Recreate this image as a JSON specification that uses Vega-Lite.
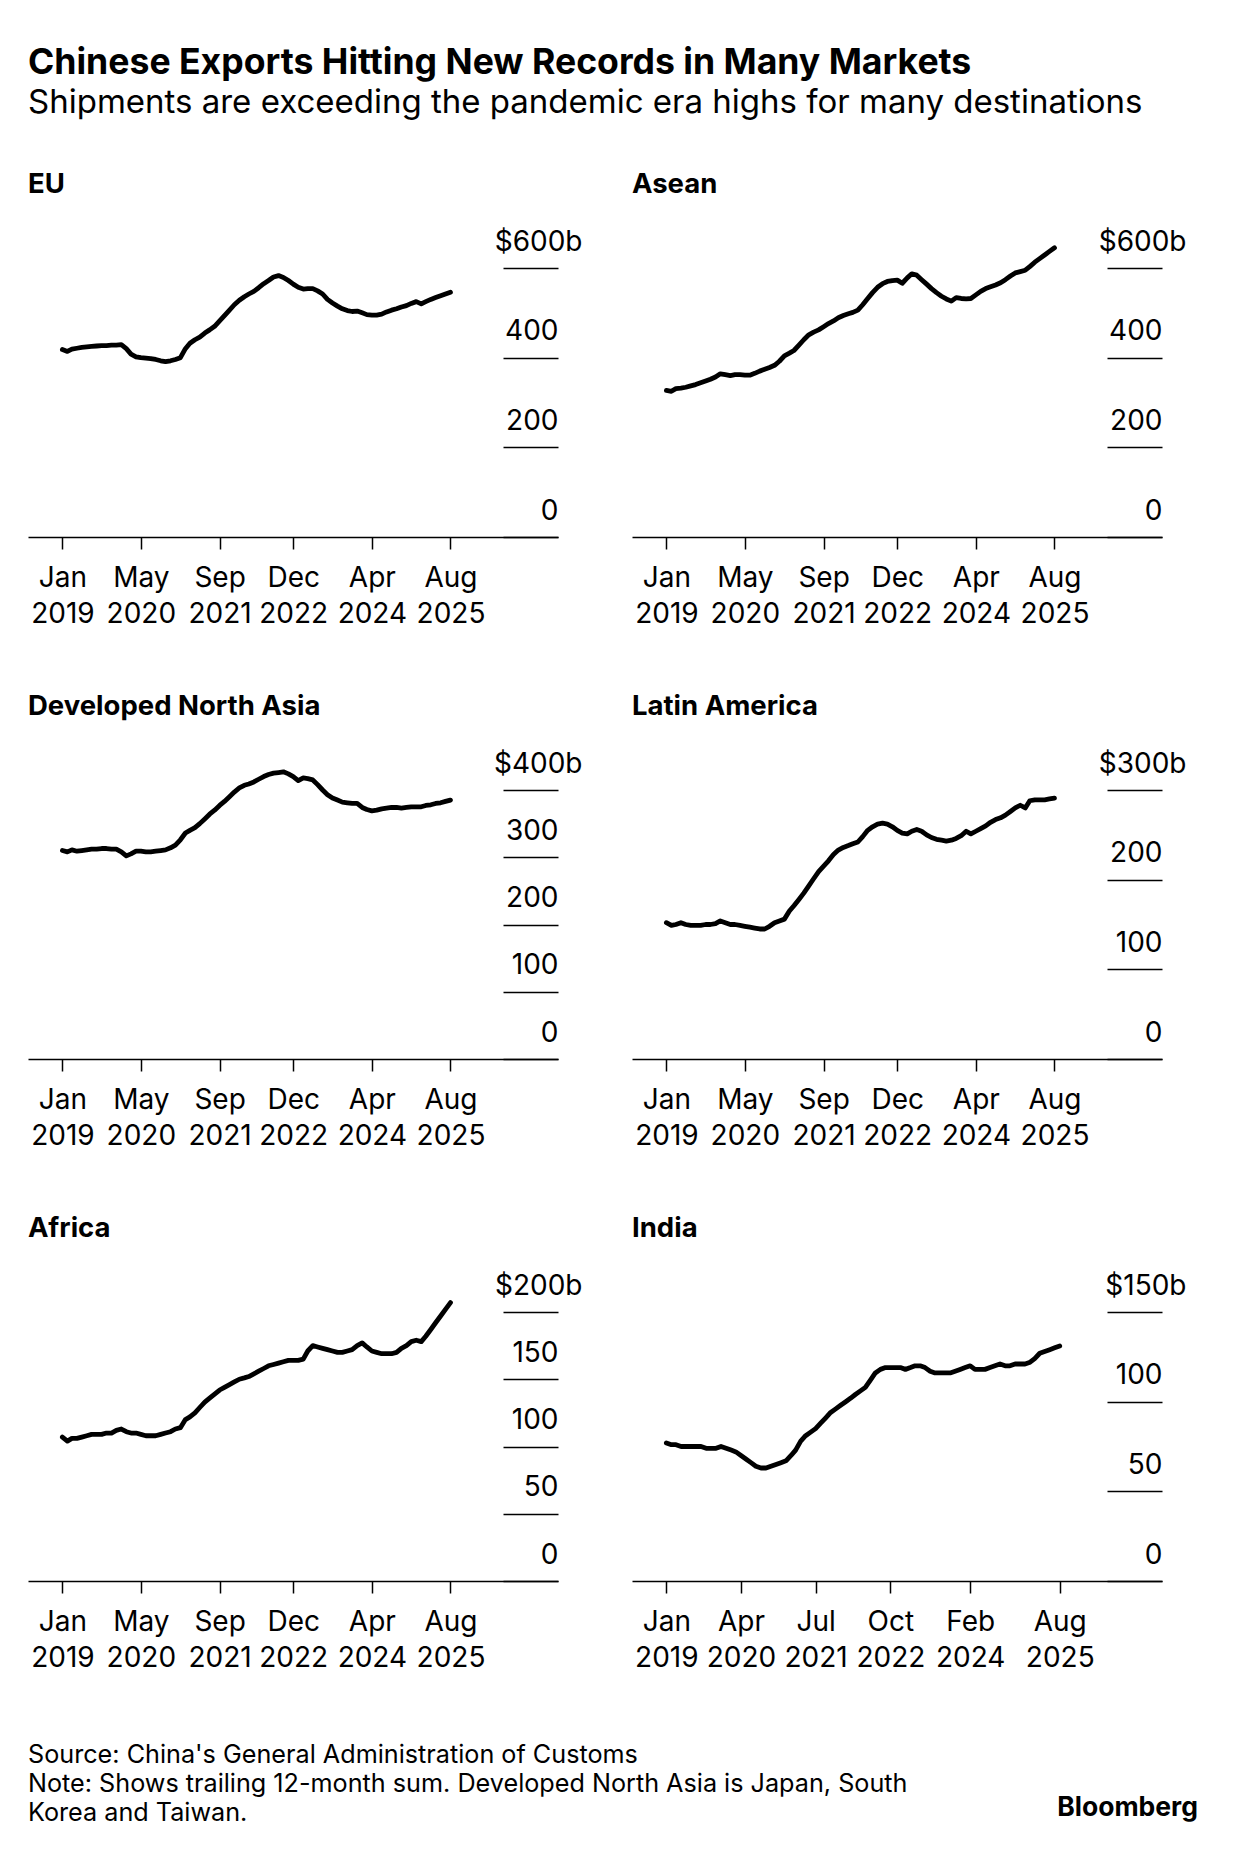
{
  "$schema": "https://vega.github.io/schema/vega-lite/v6.json",
  "background": "white",
  "padding": {"left": 28, "top": 45, "right": 10, "bottom": 10},
  "datasets": {
    "d": [
      {"date":"2019-01-01","EU":418,"Asean":327,"DNA":310,"LatAm":152,"Africa":107,"India":77},
      {"date":"2019-02-01","EU":414,"Asean":325,"DNA":308,"LatAm":149,"Africa":104,"India":76},
      {"date":"2019-03-01","EU":419,"Asean":331,"DNA":311,"LatAm":150,"Africa":106,"India":76},
      {"date":"2019-04-01","EU":421,"Asean":332,"DNA":309,"LatAm":152,"Africa":106,"India":75},
      {"date":"2019-05-01","EU":423,"Asean":334,"DNA":310,"LatAm":150,"Africa":107,"India":75},
      {"date":"2019-06-01","EU":424,"Asean":337,"DNA":311,"LatAm":149,"Africa":108,"India":75},
      {"date":"2019-07-01","EU":425,"Asean":340,"DNA":312,"LatAm":149,"Africa":109,"India":75},
      {"date":"2019-08-01","EU":426,"Asean":344,"DNA":312,"LatAm":149,"Africa":109,"India":75},
      {"date":"2019-09-01","EU":427,"Asean":348,"DNA":313,"LatAm":150,"Africa":109,"India":74},
      {"date":"2019-10-01","EU":427,"Asean":352,"DNA":313,"LatAm":150,"Africa":110,"India":74},
      {"date":"2019-11-01","EU":428,"Asean":357,"DNA":312,"LatAm":151,"Africa":110,"India":74},
      {"date":"2019-12-01","EU":428,"Asean":364,"DNA":312,"LatAm":154,"Africa":112,"India":75},
      {"date":"2020-01-01","EU":429,"Asean":362,"DNA":308,"LatAm":152,"Africa":113,"India":74},
      {"date":"2020-02-01","EU":420,"Asean":360,"DNA":302,"LatAm":150,"Africa":111,"India":73},
      {"date":"2020-03-01","EU":408,"Asean":362,"DNA":305,"LatAm":150,"Africa":110,"India":72},
      {"date":"2020-04-01","EU":402,"Asean":362,"DNA":309,"LatAm":149,"Africa":110,"India":70},
      {"date":"2020-05-01","EU":400,"Asean":361,"DNA":309,"LatAm":148,"Africa":109,"India":68},
      {"date":"2020-06-01","EU":399,"Asean":361,"DNA":308,"LatAm":147,"Africa":108,"India":66},
      {"date":"2020-07-01","EU":398,"Asean":365,"DNA":308,"LatAm":146,"Africa":108,"India":64},
      {"date":"2020-08-01","EU":396,"Asean":370,"DNA":309,"LatAm":145,"Africa":108,"India":63},
      {"date":"2020-09-01","EU":393,"Asean":374,"DNA":310,"LatAm":145,"Africa":109,"India":63},
      {"date":"2020-10-01","EU":391,"Asean":378,"DNA":311,"LatAm":148,"Africa":110,"India":64},
      {"date":"2020-11-01","EU":393,"Asean":383,"DNA":314,"LatAm":152,"Africa":111,"India":65},
      {"date":"2020-12-01","EU":396,"Asean":392,"DNA":318,"LatAm":154,"Africa":113,"India":66},
      {"date":"2021-01-01","EU":400,"Asean":404,"DNA":326,"LatAm":156,"Africa":114,"India":67},
      {"date":"2021-02-01","EU":420,"Asean":410,"DNA":336,"LatAm":165,"Africa":120,"India":70},
      {"date":"2021-03-01","EU":432,"Asean":416,"DNA":340,"LatAm":171,"Africa":122,"India":73},
      {"date":"2021-04-01","EU":440,"Asean":428,"DNA":344,"LatAm":178,"Africa":125,"India":78},
      {"date":"2021-05-01","EU":446,"Asean":440,"DNA":350,"LatAm":185,"Africa":129,"India":81},
      {"date":"2021-06-01","EU":455,"Asean":451,"DNA":357,"LatAm":193,"Africa":133,"India":83},
      {"date":"2021-07-01","EU":462,"Asean":457,"DNA":364,"LatAm":201,"Africa":136,"India":85},
      {"date":"2021-08-01","EU":470,"Asean":462,"DNA":370,"LatAm":209,"Africa":139,"India":88},
      {"date":"2021-09-01","EU":482,"Asean":469,"DNA":377,"LatAm":215,"Africa":142,"India":91},
      {"date":"2021-10-01","EU":494,"Asean":476,"DNA":383,"LatAm":221,"Africa":144,"India":94},
      {"date":"2021-11-01","EU":506,"Asean":482,"DNA":390,"LatAm":228,"Africa":146,"India":96},
      {"date":"2021-12-01","EU":518,"Asean":489,"DNA":397,"LatAm":233,"Africa":148,"India":98},
      {"date":"2022-01-01","EU":528,"Asean":494,"DNA":403,"LatAm":236,"Africa":150,"India":100},
      {"date":"2022-02-01","EU":536,"Asean":498,"DNA":407,"LatAm":238,"Africa":151,"India":102},
      {"date":"2022-03-01","EU":542,"Asean":501,"DNA":409,"LatAm":240,"Africa":152,"India":104},
      {"date":"2022-04-01","EU":548,"Asean":506,"DNA":412,"LatAm":242,"Africa":154,"India":106},
      {"date":"2022-05-01","EU":556,"Asean":518,"DNA":416,"LatAm":248,"Africa":156,"India":108},
      {"date":"2022-06-01","EU":565,"Asean":532,"DNA":420,"LatAm":255,"Africa":158,"India":112},
      {"date":"2022-07-01","EU":572,"Asean":545,"DNA":423,"LatAm":259,"Africa":160,"India":116},
      {"date":"2022-08-01","EU":580,"Asean":557,"DNA":425,"LatAm":262,"Africa":161,"India":118},
      {"date":"2022-09-01","EU":583,"Asean":565,"DNA":426,"LatAm":263,"Africa":162,"India":119},
      {"date":"2022-10-01","EU":579,"Asean":570,"DNA":427,"LatAm":262,"Africa":163,"India":119},
      {"date":"2022-11-01","EU":572,"Asean":572,"DNA":424,"LatAm":259,"Africa":164,"India":119},
      {"date":"2022-12-01","EU":564,"Asean":573,"DNA":420,"LatAm":255,"Africa":164,"India":119},
      {"date":"2023-01-01","EU":557,"Asean":566,"DNA":414,"LatAm":252,"Africa":164,"India":118},
      {"date":"2023-02-01","EU":553,"Asean":578,"DNA":418,"LatAm":251,"Africa":165,"India":119},
      {"date":"2023-03-01","EU":554,"Asean":587,"DNA":417,"LatAm":254,"Africa":171,"India":120},
      {"date":"2023-04-01","EU":554,"Asean":584,"DNA":415,"LatAm":256,"Africa":175,"India":120},
      {"date":"2023-05-01","EU":549,"Asean":574,"DNA":408,"LatAm":254,"Africa":174,"India":119},
      {"date":"2023-06-01","EU":542,"Asean":564,"DNA":400,"LatAm":250,"Africa":173,"India":117},
      {"date":"2023-07-01","EU":530,"Asean":554,"DNA":393,"LatAm":247,"Africa":172,"India":116},
      {"date":"2023-08-01","EU":522,"Asean":545,"DNA":388,"LatAm":245,"Africa":171,"India":116},
      {"date":"2023-09-01","EU":515,"Asean":537,"DNA":385,"LatAm":244,"Africa":170,"India":116},
      {"date":"2023-10-01","EU":509,"Asean":531,"DNA":382,"LatAm":243,"Africa":170,"India":116},
      {"date":"2023-11-01","EU":505,"Asean":526,"DNA":381,"LatAm":244,"Africa":171,"India":117},
      {"date":"2023-12-01","EU":503,"Asean":534,"DNA":380,"LatAm":246,"Africa":172,"India":118},
      {"date":"2024-01-01","EU":504,"Asean":532,"DNA":380,"LatAm":249,"Africa":175,"India":119},
      {"date":"2024-02-01","EU":500,"Asean":531,"DNA":374,"LatAm":254,"Africa":177,"India":120},
      {"date":"2024-03-01","EU":496,"Asean":532,"DNA":371,"LatAm":251,"Africa":174,"India":118},
      {"date":"2024-04-01","EU":495,"Asean":540,"DNA":369,"LatAm":254,"Africa":171,"India":118},
      {"date":"2024-05-01","EU":495,"Asean":548,"DNA":370,"LatAm":257,"Africa":170,"India":118},
      {"date":"2024-06-01","EU":497,"Asean":554,"DNA":372,"LatAm":260,"Africa":169,"India":119},
      {"date":"2024-07-01","EU":502,"Asean":558,"DNA":373,"LatAm":264,"Africa":169,"India":120},
      {"date":"2024-08-01","EU":506,"Asean":562,"DNA":374,"LatAm":267,"Africa":169,"India":121},
      {"date":"2024-09-01","EU":509,"Asean":567,"DNA":374,"LatAm":269,"Africa":170,"India":120},
      {"date":"2024-10-01","EU":513,"Asean":574,"DNA":373,"LatAm":272,"Africa":173,"India":120},
      {"date":"2024-11-01","EU":516,"Asean":582,"DNA":374,"LatAm":276,"Africa":175,"India":121},
      {"date":"2024-12-01","EU":521,"Asean":589,"DNA":375,"LatAm":280,"Africa":178,"India":121},
      {"date":"2025-01-01","EU":525,"Asean":592,"DNA":375,"LatAm":283,"Africa":179,"India":121},
      {"date":"2025-02-01","EU":520,"Asean":595,"DNA":375,"LatAm":280,"Africa":178,"India":122},
      {"date":"2025-03-01","EU":525,"Asean":603,"DNA":377,"LatAm":288,"Africa":182,"India":124},
      {"date":"2025-04-01","EU":530,"Asean":613,"DNA":378,"LatAm":289,"Africa":187,"India":127},
      {"date":"2025-05-01","EU":534,"Asean":621,"DNA":380,"LatAm":289,"Africa":192,"India":128},
      {"date":"2025-06-01","EU":538,"Asean":629,"DNA":381,"LatAm":289,"Africa":197,"India":129},
      {"date":"2025-07-01","EU":542,"Asean":637,"DNA":383,"LatAm":290,"Africa":202,"India":130},
      {"date":"2025-08-01","EU":546,"Asean":645,"DNA":385,"LatAm":291,"Africa":207,"India":131}
    ],
    "foot": [
      {"row": 1, "side": "left", "text": "Source: China's General Administration of Customs"},
      {"row": 2, "side": "left", "text": "Note: Shows trailing 12-month sum. Developed North Asia is Japan, South"},
      {"row": 3, "side": "left", "text": "Korea and Taiwan."},
      {"row": 3, "side": "right", "text": "Bloomberg"}
    ]
  },
  "title": {
    "text": "Chinese Exports Hitting New Records in Many Markets",
    "subtitle": "Shipments are exceeding the pandemic era highs for many destinations",
    "anchor": "start",
    "font": "Inter",
    "fontSize": 35.6,
    "fontWeight": 700,
    "color": "#000",
    "subtitleFont": "Inter",
    "subtitleFontSize": 33,
    "subtitleColor": "#000",
    "subtitlePadding": 6,
    "offset": 50
  },
  "spacing": 68,
  "vconcat": [
    {
      "columns": 2,
      "bounds": "flush",
      "spacing": {"row": 253, "column": 74},
      "concat": [
        {
          "title": "EU",
          "width": 530, "height": 269,
          "data": {"name": "d"},
          "mark": {"type": "line", "color": "#000", "strokeWidth": 4.8, "strokeCap": "round", "strokeJoin": "round", "clip": false},
          "encoding": {
            "x": {"field": "date", "type": "temporal",
              "scale": {"type": "utc", "domain": [{"year": 2018, "month": 6, "date": 2, "utc": true}, {"year": 2027, "month": 5, "date": 29, "utc": true}]},
              "axis": {"values": [{"year": 2019, "month": 1, "date": 1, "utc": true}, {"year": 2020, "month": 5, "date": 1, "utc": true}, {"year": 2021, "month": 9, "date": 1, "utc": true}, {"year": 2022, "month": 12, "date": 1, "utc": true}, {"year": 2024, "month": 4, "date": 1, "utc": true}, {"year": 2025, "month": 8, "date": 1, "utc": true}],
                "labelExpr": "[utcFormat(datum.value, '%b'), utcFormat(datum.value, '%Y')]"}},
            "y": {"field": "EU", "type": "quantitative",
              "scale": {"domain": [0, 600], "nice": false},
              "axis": {"orient": "right", "values": [0, 200, 400, 600],
                "labelExpr": "datum.value == 600 ? '$600b' : datum.label",
                "labelPadding": {"condition": {"test": "datum.value == 600", "value": 79}, "value": 55}}}
          }
        },
        {
          "title": "Asean",
          "width": 530, "height": 269,
          "data": {"name": "d"},
          "mark": {"type": "line", "color": "#000", "strokeWidth": 4.8, "strokeCap": "round", "strokeJoin": "round", "clip": false},
          "encoding": {
            "x": {"field": "date", "type": "temporal",
              "scale": {"type": "utc", "domain": [{"year": 2018, "month": 6, "date": 2, "utc": true}, {"year": 2027, "month": 5, "date": 29, "utc": true}]},
              "axis": {"values": [{"year": 2019, "month": 1, "date": 1, "utc": true}, {"year": 2020, "month": 5, "date": 1, "utc": true}, {"year": 2021, "month": 9, "date": 1, "utc": true}, {"year": 2022, "month": 12, "date": 1, "utc": true}, {"year": 2024, "month": 4, "date": 1, "utc": true}, {"year": 2025, "month": 8, "date": 1, "utc": true}],
                "labelExpr": "[utcFormat(datum.value, '%b'), utcFormat(datum.value, '%Y')]"}},
            "y": {"field": "Asean", "type": "quantitative",
              "scale": {"domain": [0, 600], "nice": false},
              "axis": {"orient": "right", "values": [0, 200, 400, 600],
                "labelExpr": "datum.value == 600 ? '$600b' : datum.label",
                "labelPadding": {"condition": {"test": "datum.value == 600", "value": 79}, "value": 55}}}
          }
        },
        {
          "title": "Developed North Asia",
          "width": 530, "height": 269,
          "data": {"name": "d"},
          "mark": {"type": "line", "color": "#000", "strokeWidth": 4.8, "strokeCap": "round", "strokeJoin": "round", "clip": false},
          "encoding": {
            "x": {"field": "date", "type": "temporal",
              "scale": {"type": "utc", "domain": [{"year": 2018, "month": 6, "date": 2, "utc": true}, {"year": 2027, "month": 5, "date": 29, "utc": true}]},
              "axis": {"values": [{"year": 2019, "month": 1, "date": 1, "utc": true}, {"year": 2020, "month": 5, "date": 1, "utc": true}, {"year": 2021, "month": 9, "date": 1, "utc": true}, {"year": 2022, "month": 12, "date": 1, "utc": true}, {"year": 2024, "month": 4, "date": 1, "utc": true}, {"year": 2025, "month": 8, "date": 1, "utc": true}],
                "labelExpr": "[utcFormat(datum.value, '%b'), utcFormat(datum.value, '%Y')]"}},
            "y": {"field": "DNA", "type": "quantitative",
              "scale": {"domain": [0, 400], "nice": false},
              "axis": {"orient": "right", "values": [0, 100, 200, 300, 400],
                "labelExpr": "datum.value == 400 ? '$400b' : datum.label",
                "labelPadding": {"condition": {"test": "datum.value == 400", "value": 79}, "value": 55}}}
          }
        },
        {
          "title": "Latin America",
          "width": 530, "height": 269,
          "data": {"name": "d"},
          "mark": {"type": "line", "color": "#000", "strokeWidth": 4.8, "strokeCap": "round", "strokeJoin": "round", "clip": false},
          "encoding": {
            "x": {"field": "date", "type": "temporal",
              "scale": {"type": "utc", "domain": [{"year": 2018, "month": 6, "date": 2, "utc": true}, {"year": 2027, "month": 5, "date": 29, "utc": true}]},
              "axis": {"values": [{"year": 2019, "month": 1, "date": 1, "utc": true}, {"year": 2020, "month": 5, "date": 1, "utc": true}, {"year": 2021, "month": 9, "date": 1, "utc": true}, {"year": 2022, "month": 12, "date": 1, "utc": true}, {"year": 2024, "month": 4, "date": 1, "utc": true}, {"year": 2025, "month": 8, "date": 1, "utc": true}],
                "labelExpr": "[utcFormat(datum.value, '%b'), utcFormat(datum.value, '%Y')]"}},
            "y": {"field": "LatAm", "type": "quantitative",
              "scale": {"domain": [0, 300], "nice": false},
              "axis": {"orient": "right", "values": [0, 100, 200, 300],
                "labelExpr": "datum.value == 300 ? '$300b' : datum.label",
                "labelPadding": {"condition": {"test": "datum.value == 300", "value": 79}, "value": 55}}}
          }
        },
        {
          "title": "Africa",
          "width": 530, "height": 269,
          "data": {"name": "d"},
          "mark": {"type": "line", "color": "#000", "strokeWidth": 4.8, "strokeCap": "round", "strokeJoin": "round", "clip": false},
          "encoding": {
            "x": {"field": "date", "type": "temporal",
              "scale": {"type": "utc", "domain": [{"year": 2018, "month": 6, "date": 2, "utc": true}, {"year": 2027, "month": 5, "date": 29, "utc": true}]},
              "axis": {"values": [{"year": 2019, "month": 1, "date": 1, "utc": true}, {"year": 2020, "month": 5, "date": 1, "utc": true}, {"year": 2021, "month": 9, "date": 1, "utc": true}, {"year": 2022, "month": 12, "date": 1, "utc": true}, {"year": 2024, "month": 4, "date": 1, "utc": true}, {"year": 2025, "month": 8, "date": 1, "utc": true}],
                "labelExpr": "[utcFormat(datum.value, '%b'), utcFormat(datum.value, '%Y')]"}},
            "y": {"field": "Africa", "type": "quantitative",
              "scale": {"domain": [0, 200], "nice": false},
              "axis": {"orient": "right", "values": [0, 50, 100, 150, 200],
                "labelExpr": "datum.value == 200 ? '$200b' : datum.label",
                "labelPadding": {"condition": {"test": "datum.value == 200", "value": 79}, "value": 55}}}
          }
        },
        {
          "title": "India",
          "width": 530, "height": 269,
          "data": {"name": "d"},
          "mark": {"type": "line", "color": "#000", "strokeWidth": 4.8, "strokeCap": "round", "strokeJoin": "round", "clip": false},
          "encoding": {
            "x": {"field": "date", "type": "temporal",
              "scale": {"type": "utc", "domain": [{"year": 2018, "month": 6, "date": 5, "utc": true}, {"year": 2027, "month": 4, "date": 18, "utc": true}]},
              "axis": {"values": [{"year": 2019, "month": 1, "date": 1, "utc": true}, {"year": 2020, "month": 4, "date": 1, "utc": true}, {"year": 2021, "month": 7, "date": 1, "utc": true}, {"year": 2022, "month": 10, "date": 1, "utc": true}, {"year": 2024, "month": 2, "date": 1, "utc": true}, {"year": 2025, "month": 8, "date": 1, "utc": true}],
                "labelExpr": "[utcFormat(datum.value, '%b'), utcFormat(datum.value, '%Y')]"}},
            "y": {"field": "India", "type": "quantitative",
              "scale": {"domain": [0, 150], "nice": false},
              "axis": {"orient": "right", "values": [0, 50, 100, 150],
                "labelExpr": "datum.value == 150 ? '$150b' : datum.label",
                "labelPadding": {"condition": {"test": "datum.value == 150", "value": 79}, "value": 55}}}
          }
        }
      ]
    },
    {
      "width": 1170,
      "height": 87,
      "data": {"name": "foot"},
      "encoding": {
        "y": {"field": "row", "type": "ordinal", "axis": null},
        "x": {"field": "side", "type": "nominal", "axis": null, "scale": {"type": "point", "domain": ["left", "right"], "padding": 0}},
        "text": {"field": "text", "type": "nominal"}
      },
      "layer": [
        {"transform": [{"filter": "datum.side == 'left'"}], "mark": {"type": "text", "align": "left", "baseline": "middle", "fontSize": 25.2, "color": "#000"}},
        {"transform": [{"filter": "datum.side == 'right'"}], "mark": {"type": "text", "align": "right", "baseline": "middle", "fontSize": 26.5, "fontWeight": 700, "color": "#000", "dy": -5}}
      ]
    }
  ],
  "config": {
    "font": "Inter",
    "view": {"stroke": null},
    "title": {"anchor": "start", "fontSize": 27.5, "fontWeight": 700, "color": "#000", "offset": 30},
    "axis": {"grid": false, "title": null, "labelColor": "#000", "domainColor": "#000", "tickColor": "#000", "labelFontSize": 28, "labelFont": "Inter"},
    "axisX": {"domainWidth": 1.5, "tickWidth": 1.5, "tickSize": 12, "labelPadding": 15, "labelLineHeight": 36, "labelFlush": false, "labelOverlap": false, "labelBound": false},
    "axisY": {"domain": false, "ticks": true, "tickSize": -55, "tickWidth": 1.5, "labelAlign": "right", "labelBaseline": "alphabetic", "labelOffset": -18, "labelOverlap": false}
  }
}
